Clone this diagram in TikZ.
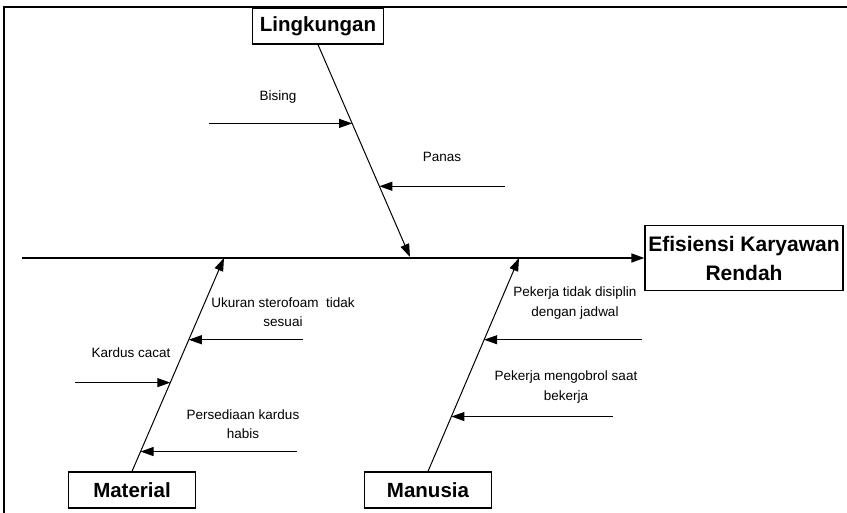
\documentclass[tikz,border=0pt]{standalone}
\usepackage{fontspec}
\setmainfont{Liberation Sans}
\usetikzlibrary{arrows.meta}

\begin{document}
\begin{tikzpicture}[
    x=1pt, y=-1pt,
    cause/.style={draw, line width=1.2pt, fill=white, minimum width=127pt, minimum height=36pt,
                inner sep=2pt, font=\fontsize{20.5}{24}\selectfont\bfseries},
    effect/.style={draw, line width=1.2pt, fill=white, align=center, minimum width=198pt,
                minimum height=65pt, font=\fontsize{21}{29}\selectfont\bfseries},
    spine/.style={line width=1.6pt, -{Triangle[length=13pt,width=9pt]}},
    bone/.style={line width=1pt, -{Triangle[length=13pt,width=9pt]}},
    sub/.style={line width=1pt, -{Triangle[length=13pt,width=9pt]}},
    lbl/.style={align=center, inner sep=0pt, font=\fontsize{13.5}{19.5}\selectfont}
]
\useasboundingbox (0,0) rectangle (847,513);

% frame
\draw[line width=1.5pt] (4,513) -- (4,7) -- (847,7);

% head and main spine
\node[effect] (eff) at (744,258) {Efisiensi Karyawan\\Rendah};
\coordinate (tail) at (22,258);
\draw[spine] (tail) -- (eff.west);

% main causes
\node[cause, minimum width=131pt] (lk) at (318,26) {Lingkungan};
\node[cause] (mat) at (132,490) {Material};
\node[cause] (man) at (428,490) {Manusia};

\coordinate (lkend) at (410,257);
\coordinate (matend) at (224,258);
\coordinate (manend) at (519,258);

\draw[bone] (lk.south) -- (lkend)
    coordinate[pos=0.371] (bising) coordinate[pos=0.667] (panas);
\draw[bone] (mat.north) -- (matend)
    coordinate[pos=0.617] (ukuran) coordinate[pos=0.416] (kcacat) coordinate[pos=0.093] (sedia);
\draw[bone] (man.north) -- (manend)
    coordinate[pos=0.617] (disiplin) coordinate[pos=0.257] (ngobrol);

% sub causes
\coordinate (bisingtail) at (209,0 |- bising);
\coordinate (panastail) at (505,0 |- panas);
\coordinate (ukurantail) at (303,0 |- ukuran);
\coordinate (kcacattail) at (75,0 |- kcacat);
\coordinate (sediatail) at (297,0 |- sedia);
\coordinate (disiplintail) at (642,0 |- disiplin);
\coordinate (ngobroltail) at (613,0 |- ngobrol);

\draw[sub] (bisingtail) -- (bising);
\draw[sub] (panastail) -- (panas);
\draw[sub] (ukurantail) -- (ukuran);
\draw[sub] (kcacattail) -- (kcacat);
\draw[sub] (sediatail) -- (sedia);
\draw[sub] (disiplintail) -- (disiplin);
\draw[sub] (ngobroltail) -- (ngobrol);

\node[lbl] (tbising) at (278,97) {Bising};
\node[lbl] (tpanas) at (442,157) {Panas};
\node[lbl] (tukuran) at (283,312) {Ukuran sterofoam\ \ tidak\\sesuai};
\node[lbl] (tkcacat) at (131,353) {Kardus cacat};
\node[lbl] (tsedia) at (243,424) {Persediaan kardus\\habis};
\node[lbl] (tdisiplin) at (575,303) {Pekerja tidak disiplin\\dengan jadwal};
\node[lbl] (tngobrol) at (566,387) {Pekerja mengobrol saat\\bekerja};

\end{tikzpicture}
\end{document}
